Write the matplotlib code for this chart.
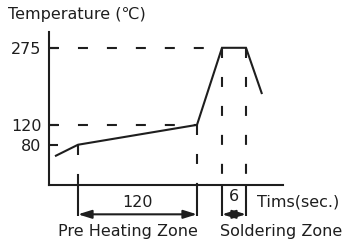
import matplotlib
matplotlib.use("Agg")
import matplotlib.pyplot as plt

# ---- data ----
profile_x = [6, 29, 148, 173, 197, 213]        # schematic time positions
profile_temp = [57, 80, 120, 275, 275, 182]     # temperature (°C)
ytick_values = [80, 120, 275]
ytick_labels = ["80", "120", "275"]
preheat_span = [29, 148]
preheat_label = "120"
solder_span = [173, 197]
solder_label = "6"
zone_labels = ["Pre Heating Zone", "Soldering Zone"]
xlabel_text = "Tims(sec.)"
ylabel_text = "Temperature (℃)"

FONT = ["DejaVu Sans"]
FS = 11.5
LW = 1.5
DASH = (0, (4.8, 9.1))
c = "#1e1e1e"

fig = plt.figure(figsize=(3.47, 2.42), dpi=100)
ax = fig.add_axes([49 / 347, (242 - 184.5) / 242, 234 / 347, 152.5 / 242])
ax.set_xlim(0, 234)
ax.set_ylim(0, 306.8)

for s in ["top", "right"]:
    ax.spines[s].set_visible(False)
for s in ["left", "bottom"]:
    ax.spines[s].set_linewidth(LW)
    ax.spines[s].set_color(c)

ax.set_xticks([])
ax.set_yticks(ytick_values)
ax.set_yticklabels(ytick_labels, fontsize=FS, family=FONT, color=c)
ax.tick_params(axis="y", direction="in", length=6.5, width=LW, pad=5.5, colors=c)

# profile curve
ax.plot(profile_x, profile_temp, color=c, lw=LW, solid_joinstyle="miter",
        solid_capstyle="butt")

# dashed guides
ax.plot([0, profile_x[3]], [profile_temp[3], profile_temp[3]], color=c, lw=LW, ls=DASH)
ax.plot([0, profile_x[2]], [profile_temp[2], profile_temp[2]], color=c, lw=LW, ls=DASH)
for xi, ti in [(profile_x[1], profile_temp[1]), (profile_x[2], profile_temp[2]),
               (profile_x[3], profile_temp[3]), (profile_x[4], profile_temp[4])]:
    ax.plot([xi, xi], [ti, 0], color=c, lw=LW, ls=DASH)
    ax.plot([xi, xi], [0, -63], color=c, lw=LW, clip_on=False, solid_capstyle="butt")

# span arrows
for span in (preheat_span, solder_span):
    ax.annotate("", xy=(span[0], -60), xytext=(span[1], -60), xycoords="data",
                annotation_clip=False,
                arrowprops=dict(arrowstyle="<|-|>,head_length=0.8,head_width=0.25",
                                color=c, lw=LW, shrinkA=0, shrinkB=0,
                                mutation_scale=10))

ax.text(sum(preheat_span) / 2, -36, preheat_label, ha="center", va="center",
        fontsize=FS, family=FONT, color=c, clip_on=False)
ax.text(sum(solder_span) / 2, -25, solder_label, ha="center", va="center",
        fontsize=FS, family=FONT, color=c, clip_on=False)
ax.text(208, -36, xlabel_text, ha="left", va="center",
        fontsize=FS, family=FONT, color=c, clip_on=False)
ax.text(78.5, -95, zone_labels[0], ha="center", va="center",
        fontsize=FS, family=FONT, color=c, clip_on=False)
ax.text(232, -95, zone_labels[1], ha="center", va="center",
        fontsize=FS, family=FONT, color=c, clip_on=False)

fig.text(8 / 347, 1 - 15 / 242, ylabel_text, ha="left", va="center",
         fontsize=FS, family=FONT, color=c)

fig.savefig("out.png", dpi=100)
